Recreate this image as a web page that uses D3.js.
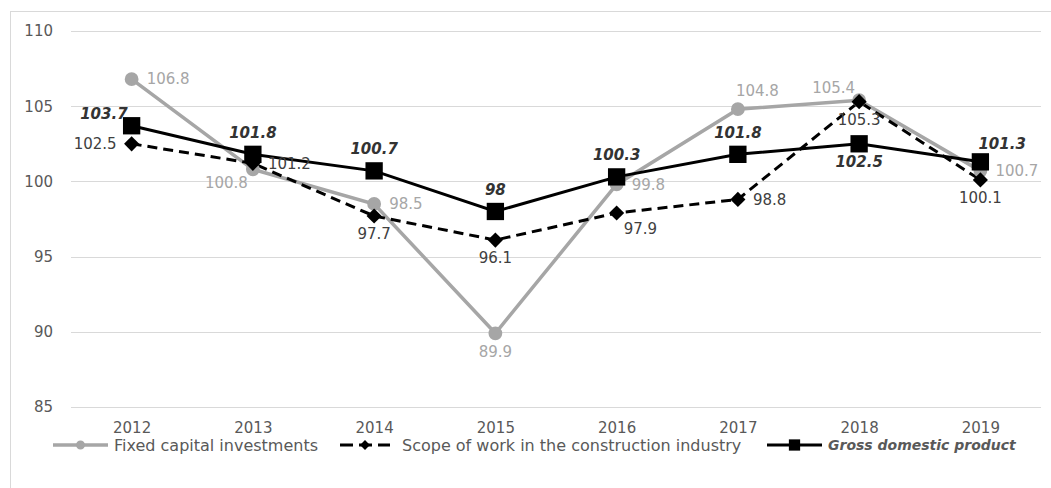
<!DOCTYPE html>
<html>
<head>
<meta charset="utf-8">
<script src="https://cdn.jsdelivr.net/npm/d3@7"></script>
<style>
  body { margin: 0; background: #fff; }
  svg { display: block; font-family: "DejaVu Sans", sans-serif; }
  .grid line { stroke: #d9d9d9; stroke-width: 1; }
  .label { font-size: 15px; }
</style>
</head>
<body>
<div id="chart"></div>
<script>
// chart data
var years = ["2012", "2013", "2014", "2015", "2016", "2017", "2018", "2019"];
var fixedCapital = [106.8, 100.8, 98.5, 89.9, 99.8, 104.8, 105.4, 100.7];
var construction = [102.5, 101.2, 97.7, 96.1, 97.9, 98.8, 105.3, 100.1];
var gdp = [103.7, 101.8, 100.7, 98, 100.3, 101.8, 102.5, 101.3];
var yTicks = [85, 90, 95, 100, 105, 110];

// where each data label sits relative to its point
var fixedLabelPos = ["right", "belowLeft", "right", "below", "right", "aboveRight", "aboveLeft", "right"];
var constrLabelPos = ["left", "right", "below", "below", "belowRight", "right", "below", "below"];
var gdpLabelPos = ["aboveLeft", "above", "above", "above", "above", "above", "below", "aboveRight"];

function init() {
    var w = 1051;
    var h = 488;
    var left = 71, right = 1041, top = 31, bottom = 407;

    var svg = d3.select("#chart").append("svg")
        .attr("width", w)
        .attr("height", h);

    // outer frame
    svg.append("rect")
        .attr("x", 10.5).attr("y", 11.5)
        .attr("width", w + 10).attr("height", h + 10)
        .attr("fill", "none")
        .attr("stroke", "#d9d9d9");

    var xScale = d3.scalePoint()
        .domain(years)
        .range([left, right])
        .padding(0.5);
    var yScale = d3.scaleLinear()
        .domain([85, 110])
        .range([bottom, top]);

    // gridlines
    svg.append("g").attr("class", "grid")
        .selectAll("line")
        .data(yTicks)
        .enter().append("line")
        .attr("x1", left).attr("x2", right)
        .attr("y1", function(d) { return Math.round(yScale(d)) + 0.5; })
        .attr("y2", function(d) { return Math.round(yScale(d)) + 0.5; });

    // y axis labels
    var yAxis = d3.axisLeft(yScale).tickValues(yTicks).tickSize(0).tickPadding(18);
    var gy = svg.append("g")
        .attr("transform", "translate(" + left + ",0)")
        .call(yAxis)
        .attr("font-size", 15)
        .attr("font-family", null);
    gy.select(".domain").remove();
    gy.selectAll("text").attr("fill", "#595959");

    // x axis labels
    var xAxis = d3.axisBottom(xScale).tickSize(0).tickPadding(15);
    var gx = svg.append("g")
        .attr("transform", "translate(0," + bottom + ")")
        .call(xAxis)
        .attr("font-size", 15)
        .attr("font-family", null);
    gx.select(".domain").remove();
    gx.selectAll("text").attr("fill", "#595959");

    var series = [
        { name: "Fixed capital investments", values: fixedCapital, pos: fixedLabelPos,
          color: "#a6a6a6", labelColor: "#a6a6a6", dash: null, width: 3.5, marker: "circle", bold: false },
        { name: "Scope of work in the construction industry", values: construction, pos: constrLabelPos,
          color: "#000", labelColor: "#404040", dash: "10,6", width: 3, marker: "diamond", bold: false },
        { name: "Gross domestic product", values: gdp, pos: gdpLabelPos,
          color: "#000", labelColor: "#333", dash: null, width: 3, marker: "square", bold: true }
    ];

    var symbols = {
        circle: d3.symbol().type(d3.symbolCircle).size(150),
        diamond: d3.symbol().type(d3.symbolSquare).size(115),
        square: d3.symbol().type(d3.symbolSquare).size(300)
    };
    var rotate = { circle: 0, diamond: 45, square: 0 };

    var line = d3.line()
        .x(function(d, i) { return xScale(years[i]); })
        .y(function(d) { return yScale(d); });

    series.forEach(function(s) {
        svg.append("path")
            .datum(s.values)
            .attr("fill", "none")
            .attr("stroke", s.color)
            .attr("stroke-width", s.width)
            .attr("stroke-dasharray", s.dash)
            .attr("d", line);
    });

    series.forEach(function(s) {
        svg.append("g").selectAll("path")
            .data(s.values)
            .enter().append("path")
            .attr("d", symbols[s.marker])
            .attr("fill", s.color)
            .attr("transform", function(d, i) {
                return "translate(" + xScale(years[i]) + "," + yScale(d) + ") rotate(" + rotate[s.marker] + ")";
            });
    });

    // data labels
    var offsets = {
        right: [15, 0, "start"],
        left: [-15, 0, "end"],
        above: [0, -22, "middle"],
        below: [0, 18, "middle"],
        belowLeft: [-5, 13, "end"],
        aboveLeft: [-4, -12, "end"],
        aboveRight: [-2, -18, "start"],
        belowRight: [7, 16, "start"]
    };
    series.forEach(function(s) {
        svg.append("g").selectAll("text")
            .data(s.values)
            .enter().append("text")
            .attr("class", "label")
            .attr("x", function(d, i) { return xScale(years[i]) + offsets[s.pos[i]][0]; })
            .attr("y", function(d, i) { return yScale(d) + offsets[s.pos[i]][1]; })
            .attr("dy", "0.35em")
            .attr("text-anchor", function(d, i) { return offsets[s.pos[i]][2]; })
            .attr("fill", s.labelColor)
            .attr("font-weight", s.bold ? "bold" : null)
            .attr("font-style", s.bold ? "italic" : null)
            .text(function(d) { return d; });
    });

    // legend
    var legendX = [53, 340, 767];
    var legendY = 445;
    var lg = svg.append("g").selectAll("g")
        .data(series)
        .enter().append("g")
        .attr("transform", function(d, i) { return "translate(" + legendX[i] + "," + legendY + ")"; });
    lg.append("line")
        .attr("x1", 0).attr("x2", function(d, i) { return i == 1 ? 50 : 55; })
        .attr("stroke", function(d) { return d.color; })
        .attr("stroke-width", function(d) { return d.width; })
        .attr("stroke-dasharray", function(d) { return d.dash ? "13,6" : null; });
    lg.append("path")
        .attr("d", function(d) { return symbols[d.marker](); })
        .attr("fill", function(d) { return d.color; })
        .attr("transform", function(d, i) {
            return "translate(" + (i == 1 ? 25 : 27.5) + ",0) scale(0.65) rotate(" + rotate[d.marker] + ")";
        });
    lg.append("text")
        .attr("x", function(d, i) { return i == 1 ? 62 : 61; })
        .attr("dy", "0.35em")
        .attr("font-size", function(d) { return d.bold ? 14 : 16; })
        .attr("fill", "#595959")
        .attr("font-weight", function(d) { return d.bold ? "bold" : null; })
        .attr("font-style", function(d) { return d.bold ? "italic" : null; })
        .text(function(d) { return d.name; });
}
window.onload = init;
</script>
</body>
</html>
